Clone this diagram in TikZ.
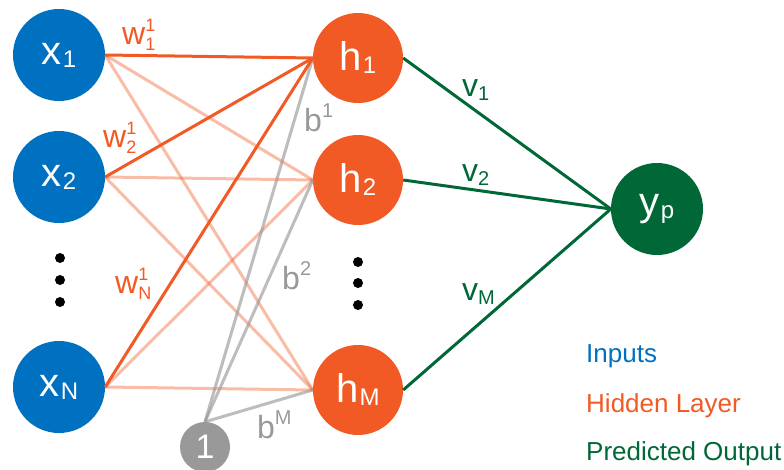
\documentclass[tikz,border=0pt]{standalone}
\usepackage{fontspec}
\setmainfont{Liberation Sans}
\definecolor{cblue}{HTML}{0070C0}
\definecolor{corange}{HTML}{F15A24}
\definecolor{cgreen}{HTML}{006837}
\definecolor{cgray}{HTML}{999999}
\newcommand{\nlab}[2]{{\fontsize{40}{40}\selectfont #1}{\fontsize{24}{24}\selectfont\kern1pt\raisebox{-3pt}{#2}}}
\newcommand{\wlab}[3]{{\fontsize{32}{32}\selectfont #1}{\fontsize{18}{18}\selectfont\rlap{\raisebox{13pt}{#3}}\raisebox{-6pt}{#2}}}
\newcommand{\blab}[2]{{\fontsize{32}{32}\selectfont #1}{\fontsize{20}{20}\selectfont\raisebox{14pt}{#2}}}
\newcommand{\vlab}[2]{{\fontsize{32}{32}\selectfont #1}{\fontsize{20}{20}\selectfont\raisebox{-4pt}{#2}}}
\tikzset{
  inp/.style={circle, fill=cblue, text=white, minimum size=92pt, inner sep=0pt},
  hid/.style={circle, fill=corange, text=white, minimum size=90pt, inner sep=0pt},
  outp/.style={circle, fill=cgreen, text=white, minimum size=92pt, inner sep=0pt},
  bias/.style={circle, fill=cgray, text=white, minimum size=50pt, inner sep=0pt, font=\fontsize{34}{34}\selectfont},
  dotn/.style={circle, fill=black, minimum size=10pt, inner sep=0pt},
  strong/.style={draw=corange, line width=3pt},
  light/.style={draw=corange, draw opacity=0.4, line width=3pt},
  bline/.style={draw=cgray, draw opacity=0.65, line width=3pt},
  gline/.style={draw=cgreen, line width=3pt},
  lab/.style={anchor=base west, inner sep=0pt},
  leg/.style={anchor=base west, inner sep=0pt, font=\fontsize{26}{26}\selectfont},
}
\begin{document}
\begin{tikzpicture}[x=1pt, y=-1pt]
\useasboundingbox (0,0) rectangle (784,470);
\node[inp] (x1) at (59,55) {\nlab{x}{1}};
\node[inp] (x2) at (59,177) {\nlab{x}{2}};
\node[inp] (xN) at (59,387) {\nlab{x}{N}};
\node[hid] (h1) at (358,58) {\nlab{h}{1}};
\node[hid] (h2) at (358,180) {\nlab{h}{2}};
\node[hid] (hM) at (358,390) {\nlab{h}{M}};
\node[outp] (yp) at (657,209) {\nlab{y}{p}};
\node[bias] (b) at (205,447) {1};
\node[dotn] (ld1) at (60,258) {};
\node[dotn] (ld2) at (60,280) {};
\node[dotn] (ld3) at (60,302) {};
\node[dotn] (rd1) at (358,262) {};
\node[dotn] (rd2) at (358,283) {};
\node[dotn] (rd3) at (358,305) {};
% light weights
\draw[light] (x1.east) -- (h2.west);
\draw[light] (x1.east) -- (hM.west);
\draw[light] (x2.east) -- (h2.west);
\draw[light] (x2.east) -- (hM.west);
\draw[light] (xN.east) -- (h2.west);
\draw[light] (xN.east) -- (hM.west);
% bias
\draw[bline] (b.north) -- (h1.west);
\draw[bline] (b.north) -- (h2.west);
\draw[bline] (b.north) -- (hM.west);
% strong weights
\draw[strong] (x1.east) -- (h1.west);
\draw[strong] (x2.east) -- (h1.west);
\draw[strong] (xN.east) -- (h1.west);
% output
\draw[gline] (h1.east) -- (yp.west);
\draw[gline] (h2.east) -- (yp.west);
\draw[gline] (hM.east) -- (yp.west);
% labels
\node[lab, text=corange] (w1) at (122,45) {\wlab{w}{1}{1}};
\node[lab, text=corange] (w2) at (103,148) {\wlab{w}{2}{1}};
\node[lab, text=corange] (wN) at (115,293) {\wlab{w}{N}{1}};
\node[lab, text=cgray] (b1) at (304,132) {\blab{b}{1}};
\node[lab, text=cgray] (b2) at (282,290) {\blab{b}{2}};
\node[lab, text=cgray] (bM) at (257,438) {\blab{b}{M}};
\node[lab, text=cgreen] (v1) at (462,97) {\vlab{v}{1}};
\node[lab, text=cgreen] (v2) at (462,182) {\vlab{v}{2}};
\node[lab, text=cgreen] (vM) at (462,300) {\vlab{v}{M}};
% legend
\node[leg, text=cblue] (l1) at (586,362) {Inputs};
\node[leg, text=corange] (l2) at (586,412) {Hidden Layer};
\node[leg, text=cgreen] (l3) at (586,460) {Predicted Output};
\end{tikzpicture}
\end{document}
